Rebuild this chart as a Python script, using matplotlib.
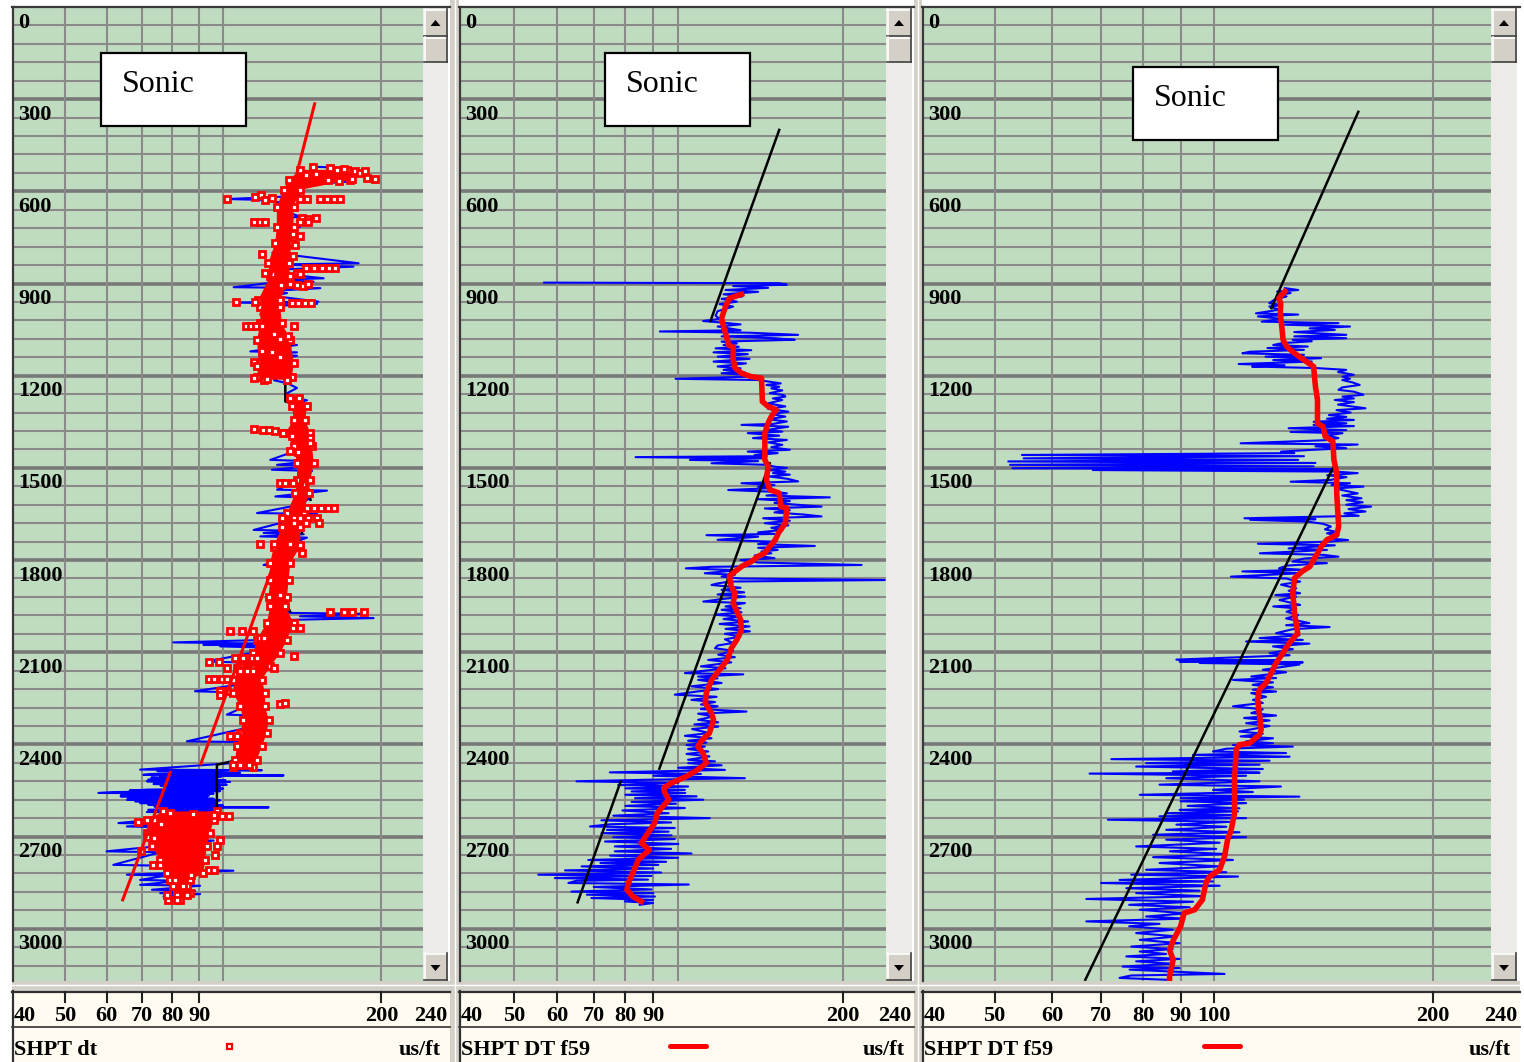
import numpy as np
import matplotlib.pyplot as plt
from matplotlib.patches import Rectangle, Polygon
from matplotlib.transforms import blended_transform_factory

nan = np.nan

# ---- scales ----
depth_marks = [0, 300, 600, 900, 1200, 1500, 1800, 2100, 2400, 2700, 3000]
dt_grid = [50, 60, 70, 80, 90, 100, 200]
dt_labels_12 = [50, 60, 70, 80, 90, 200]
dt_labels_3 = [50, 60, 70, 80, 90, 100, 200]
curve_names = ["SHPT dt", "SHPT DT f59", "SHPT DT f59"]
unit = "us/ft"
DT_MIN, DT_MAX = 40, 240
DEPTH_MAX = 3170

# ---- track 1 : raw sonic (blue), edited points (red squares), trend (red) ----
blue1 = [(520, 150), (525, 175), (530, 160), (536, 187.8), (541, 150), (548, 182.4), (555, 145),
         (568, 174.6), (580, 135), (600, 130), (615, 140), (625, 101.6), (628, 120), (640, 132),
         (660, 128), (682, 140.2), (690, 128), (715, 140.2), (740, 127), (770, 134), (800, 124),
         (834, 181), (838, 125), (845, 177), (855, 126), (870, 132), (883, 155.3), (888, 124),
         (894, 148.6), (900, 120), (912, 104.7), (915, 153.1), (925, 121), (931, 132.3), (940, 124),
         (959, 151.8), (962, 105.4), (966, 150.9), (975, 120), (1000, 128), (1030, 118), (1060, 130),
         (1094, 121.2), (1100, 138.2), (1121, 112.6), (1124, 138.2), (1132, 117.7), (1135, 138.2),
         (1160, 120), (1190, 132), (1215, 125), (1224, 132.3), (1240, 138.2), (1257, 132.3),
         (1268, 134.2), (1280, 144.4), (1289, 136), (1320, 142), (1360, 138), (1400, 143), (1440, 140),
         (1474, 122.9), (1478, 146.5), (1490, 126.6), (1494, 148.7), (1506, 123.8), (1510, 147.6),
         (1540, 140), (1571, 126.6), (1574, 157.6), (1593, 125.7), (1597, 146.5), (1620, 140),
         (1647, 116), (1650, 150.9), (1670, 135), (1702, 114.3), (1705, 140.2), (1712, 119.4),
         (1716, 142.3), (1723, 117.7), (1727, 144.4), (1760, 128), (1790, 135), (1816, 119.4),
         (1820, 132.3), (1850, 125), (1880, 132), (1929, 121.2), (1933, 132.3), (1950, 125),
         (1972, 134.2), (1975, 187), (1983, 140), (1989, 193.3), (1995, 130), (2030, 125), (2060, 120),
         (2068, 80.4), (2072, 121.1), (2076, 91.7), (2078, 121.1), (2081, 98.7), (2085, 121.1),
         (2100, 115), (2130, 93.1), (2133, 106.2), (2160, 118), (2200, 112), (2227, 88.4), (2230, 101.6),
         (2260, 116), (2303, 101.6), (2306, 114.2), (2340, 115), (2390, 85.3), (2393, 115.9),
         (2420, 112), (2460, 106), (2482, 69.5), (2484, 118.5), (2487, 75), (2489, 100), (2491, 79.3),
         (2493, 107.7), (2496, 74), (2499, 70.5), (2501, 130.3), (2504, 76), (2506, 99), (2508, 73),
         (2510, 77.0), (2512, 97.3), (2515, 72), (2517, 101), (2520, 71.6), (2522, 103.1), (2525, 74),
         (2527, 98), (2529, 73.7), (2531, 101.6), (2534, 76), (2536, 98.7), (2539, 78), (2542, 80.4),
         (2544, 100), (2547, 72), (2550, 66.4), (2552, 98.7), (2555, 62), (2558, 57.9), (2560, 95.9),
         (2563, 64), (2566, 94), (2569, 63.8), (2571, 93.1), (2574, 66), (2577, 96), (2580, 65.6),
         (2582, 98.7), (2585, 68), (2588, 97), (2591, 69.5), (2593, 97.3), (2596, 72), (2599, 100),
         (2602, 74), (2605, 122), (2607, 75.9), (2610, 99), (2613, 72), (2616, 98), (2620, 71.6),
         (2623, 98.7), (2656, 63.2), (2659, 82.8), (2667, 65.6), (2670, 78.1), (2710, 71.6),
         (2713, 95.9), (2748, 60), (2751, 75.9), (2792, 61.8), (2795, 78.1), (2808, 82.8), (2811, 104.6),
         (2824, 65.6), (2827, 78.1), (2841, 69.5), (2844, 82.8), (2857, 69.5), (2860, 90.4),
         (2873, 73.2), (2876, 88.4), (2884, 75.9), (2887, 90.4), (2895, 77.0), (2898, 85.3), (2905, 79)]

# dense band of edited points: depth, left DT, right DT
core1 = [(530, 140.2, 172), (563, 133.2, 174.6), (595, 130.3, 140.2), (650, 126.5, 136.1),
         (715, 126.5, 136.1), (769, 125.6, 135.1), (834, 121.9, 133.2), (877, 122.8, 134.2),
         (953, 116.7, 128.4), (975, 117.7, 128.4), (1029, 117.7, 129.3), (1083, 116, 134.2),
         (1159, 116.8, 136.2), (1203, 116, 135.2), (1213, 119.4, 132.3), (1240, nan, nan),
         (1273, 134.2, 139.2), (1300, 135.2, 144.4), (1344, 136.2, 143.3), (1387, 131.3, 146.5),
         (1430, 136.2, 147.6), (1485, 138.2, 148.7), (1539, 138.2, 146.5), (1582, 137.2, 145.4),
         (1647, 132.3, 142.3), (1691, 129.3, 140.2), (1756, 124.8, 140.2), (1810, 122.9, 134.2),
         (1864, 122.9, 133.2), (1919, 122, 132.3), (1951, 122.9, 131.3), (2005, 121.1, 136.1),
         (2059, 115.9, 132.2), (2103, 114.2, 128.4), (2146, 107.7, 122.9), (2190, 104.6, 118.5),
         (2233, 104.6, 120.2), (2276, 107.7, 120.2), (2320, 109.3, 122), (2363, 107.7, 121.1),
         (2406, 106.2, 118.5), (2450, 105.4, 115.9), (2472, 104.6, 114.2), (2550, nan, nan),
         (2618, 77, 97.3), (2645, 71.6, 95.9), (2689, 71.6, 94.5), (2732, 73.2, 93.1),
         (2775, 75.9, 92.4), (2819, 78.1, 91.7), (2841, 79.3, 86.5), (2862, 80.4, 85.3),
         (2884, 81.6, 86.5), (2905, 78.7, 82.8)]

squares1 = [(520, 148), (525, 160), (530, 165), (528, 170), (535, 178), (540, 182), (533, 186),
            (560, 194.8), (555, 188), (560, 176), (565, 166), (562, 158), (545, 150), (548, 144),
            (625, 101.6), (620, 115), (612, 118), (628, 120), (622, 124), (625, 140.2), (625, 144.3),
            (625, 153), (625, 157.6), (625, 162.3), (625, 167.1), (700, 114.3), (700, 117.6), (700, 120),
            (687, 141), (690, 145), (687, 150), (700, 140), (700, 145), (740, 136), (745, 140), (775, 137),
            (805, 118.5), (810, 136), (848, 144), (848, 149), (848, 154), (848, 159), (848, 163),
            (865, 120), (870, 124), (865, 138), (870, 140), (905, 129), (903, 134), (905, 138), (907, 142),
            (902, 145), (961, 105.9), (961, 115.1), (962, 135), (962, 138.5), (962, 143), (962, 147),
            (1038, 110.5), (1038, 113), (1038, 115.5), (1038, 118.5), (1038, 136.2), (1065, 124.8),
            (1070, 133), (1080, 128), (1120, 118.5), (1122, 124), (1140, 128), (1157, 114.3), (1170, 116),
            (1208, 114.3), (1210, 121.2), (1213, 132.3), (1375, 114.3), (1376, 119), (1378, 122),
            (1380, 125.5), (1388, 130), (1395, 135), (1402, 146.5), (1420, 146.5), (1445, 134),
            (1448, 138.5), (1550, 128.4), (1550, 131.3), (1550, 136), (1551, 142), (1631, 144.4),
            (1631, 148.7), (1631, 153.5), (1631, 158), (1631, 162.8), (1664, 129.3), (1664, 136.2),
            (1664, 140.2), (1664, 145), (1664, 150.9), (1678, 136.2), (1678, 144), (1678, 152),
            (1747, 117.7), (1748, 124.8), (1748, 134), (1750, 140.2), (1778, 141), (1913, 128.4),
            (1970, 159.9), (1970, 169.5), (1970, 175.8), (1970, 185), (2022, 140.2), (2020, 136),
            (2032, 103.1), (2032, 108.5), (2032, 114.2), (2054, 117.6), (2054, 119.4), (2112, 136.1),
            (2119, 105.4), (2119, 109.3), (2119, 113.4), (2119, 116), (2133, 93.8), (2133, 98),
            (2152, 101.6), (2152, 106.2), (2152, 114.2), (2152, 124.7), (2162, 107.7), (2162, 111),
            (2162, 114.2), (2186, 93.8), (2186, 95.9), (2186, 99.4), (2186, 101.6), (2227, 98.7),
            (2227, 101.6), (2238, 98.7), (2268, 128.4), (2266, 131.3), (2374, 103.1), (2374, 106.2),
            (2466, 104.6), (2466, 107.7), (2466, 112), (2623, 79.3), (2625, 87.8), (2630, 95.9),
            (2632, 99.4), (2632, 102.7), (2653, 69.0), (2645, 74), (2660, 76), (2700, 71.6), (2705, 74),
            (2710, 98.5), (2730, 97.5), (2748, 69.8), (2760, 96.5), (2792, 73.7), (2792, 75.9),
            (2808, 93.8), (2808, 95.9), (2825, 87), (2840, 81), (2889, 78.1), (2889, 81.6),
            (2889, 85.3), (2908, 81.6), (2862, 84)]

trend1_depth = [315, 1000, nan, 1490, 2463, nan, 2491, 2906]
trend1_dt = [149.3, 118, nan, 146.2, 90.7, nan, 79.3, 64.4]
black1_depth = [1230, 1284, 1290, nan, 1550, 1604, nan, 1680, 1712, nan, 1929, 1967, nan, 2455, 2466, 2624]
black1_dt = [131.3, 131.3, 135.2, nan, 144.4, 146.6, nan, 141.2, 141.2, nan, 131, 134, nan, 103.9, 97.3, 97.3]

# ---- track 2 ----
blue2 = [(897, 56.8), (899, 153), (904, 158), (908, 126), (914, 146), (921, 122), (927, 140), (935, 121),
         (942, 131), (950, 120), (959, 128), (967, 119), (975, 126), (990, 118), (1005, 117), (1015, 119),
         (1022, 111), (1027, 120), (1033, 130), (1040, 118), (1052, 130), (1056, 92.5), (1060, 135),
         (1067, 165.7), (1072, 120), (1078, 150), (1083, 163.4), (1089, 120), (1095, 128), (1100, 121),
         (1106, 129), (1111, 117), (1117, 136), (1124, 116), (1130, 134), (1138, 118), (1145, 135),
         (1154, 116), (1160, 133), (1170, 118), (1176, 130), (1181, 121), (1188, 132), (1192, 120),
         (1198, 134), (1203, 136), (1210, 98.8), (1214, 140), (1219, 146), (1225, 154), (1230, 145),
         (1236, 153), (1241, 148), (1248, 155), (1257, 147), (1263, 156), (1268, 157), (1274, 149),
         (1279, 155), (1290, 146), (1300, 157), (1308, 146), (1317, 159), (1325, 148), (1333, 157),
         (1342, 146), (1349, 158), (1357, 149), (1360, 130.5), (1366, 158.9), (1376, 146), (1382, 155),
         (1387, 134), (1395, 153), (1403, 137), (1409, 158), (1417, 146), (1425, 155), (1433, 148),
         (1441, 160), (1447, 134), (1452, 152), (1458, 138), (1462, 145), (1465, 83.5), (1469, 143),
         (1474, 105), (1478, 140), (1485, 115), (1490, 145), (1496, 150), (1500, 158), (1507, 146),
         (1512, 157), (1517, 149), (1522, 160), (1528, 147), (1536, 159), (1544, 165.7), (1550, 130.5),
         (1556, 150), (1561, 140), (1566, 148), (1572, 123.4), (1578, 150), (1583, 158), (1590, 145),
         (1596, 189.4), (1602, 140), (1608, 160), (1614, 150), (1620, 165), (1626, 182.9), (1632, 144),
         (1638, 160), (1645, 150), (1652, 170), (1658, 182.9), (1664, 143), (1672, 160), (1680, 144),
         (1687, 159), (1695, 148), (1702, 155), (1710, 140), (1715, 150), (1719, 112.6), (1724, 140),
         (1734, 118), (1740, 148.1), (1748, 140), (1754, 177.8), (1760, 140), (1767, 152), (1772, 142),
         (1778, 148), (1785, 138), (1794, 150), (1800, 130), (1808, 140), (1816, 216.5), (1822, 115),
         (1827, 103.2), (1833, 128), (1843, 111.8), (1848, 126.9), (1854, 120), (1860, 130),
         (1865, 238.8), (1870, 124.3), (1876, 118), (1881, 115), (1890, 130), (1897, 120), (1905, 132),
         (1912, 118), (1919, 132.4), (1927, 120), (1935, 111.1), (1940, 132.4), (1951, 122), (1957, 130),
         (1962, 120), (1970, 130.5), (1978, 116.7), (1984, 130), (1992, 121), (2000, 134.2), (2008, 119),
         (2016, 135), (2024, 122), (2032, 135.2), (2040, 121.7), (2049, 130), (2058, 121.7), (2070, 126),
         (2078, 118), (2087, 116.7), (2095, 126), (2108, 118.3), (2116, 126.9), (2125, 113.4),
         (2133, 125), (2146, 110), (2152, 122), (2168, 102.8), (2172, 131.5), (2179, 108.7), (2185, 118),
         (2190, 108.7), (2200, 120.0), (2211, 105.7), (2220, 118.3), (2228, 108), (2238, 98.5),
         (2245, 117.5), (2255, 105.7), (2262, 116.7), (2270, 110), (2276, 118), (2285, 110),
         (2293, 133.3), (2300, 108.7), (2309, 116), (2320, 108.7), (2328, 118.3), (2335, 107),
         (2342, 118.3), (2350, 106), (2363, 114), (2372, 102.8), (2380, 115), (2388, 104.2),
         (2394, 112.6), (2402, 103.5), (2407, 111.8), (2415, 104.2), (2423, 113.4), (2431, 103.5),
         (2439, 114), (2450, 104.2), (2455, 116.7), (2461, 104.2), (2468, 120), (2476, 99.9),
         (2483, 121.7), (2491, 74.9), (2496, 110), (2502, 90), (2510, 132.4), (2515, 88), (2520, 65.1),
         (2525, 100), (2532, 77.6), (2537, 104.2), (2543, 80), (2548, 102.8), (2553, 82.1), (2558, 103),
         (2564, 80), (2569, 108), (2575, 83.3), (2580, 111.1), (2587, 82.1), (2593, 99), (2600, 80),
         (2607, 102.8), (2615, 79), (2624, 96), (2632, 76), (2640, 114.2), (2647, 72.3), (2654, 97),
         (2660, 75), (2667, 68.9), (2672, 98.5), (2678, 74), (2684, 96), (2689, 72.3), (2696, 97.2),
         (2702, 76), (2708, 98.5), (2716, 73.4), (2724, 100), (2732, 76.5), (2740, 97), (2748, 76.5),
         (2755, 105.7), (2762, 75), (2769, 99.9), (2776, 68.4), (2782, 95), (2786, 72), (2792, 91.9),
         (2797, 66.5), (2804, 90), (2810, 62), (2817, 93), (2824, 55.4), (2828, 89.3), (2835, 59.4),
         (2840, 88), (2844, 65), (2851, 62.9), (2856, 104.5), (2864, 70), (2872, 89.3), (2879, 63.7),
         (2884, 90), (2889, 68), (2895, 90.6), (2900, 69.3), (2906, 89.9), (2911, 79.8), (2916, 89.9),
         (2922, 85)]

red2 = [(935, 130.5), (948, 124), (975, 122), (1013, 120), (1040, 121), (1083, 123), (1100, 123.5),
        (1107, 126), (1148, 126), (1175, 127), (1192, 130.5), (1203, 136), (1208, 142), (1284, 142.5),
        (1300, 146), (1311, 151), (1333, 148), (1354, 146), (1387, 144), (1474, 144), (1495, 146),
        (1539, 145), (1571, 147), (1582, 153), (1626, 154), (1631, 158), (1680, 157), (1712, 152.5),
        (1734, 150.5), (1756, 147), (1777, 144), (1788, 140), (1805, 136), (1821, 130.5), (1837, 127),
        (1853, 124), (1886, 125), (1908, 127), (1940, 126), (1994, 130), (2027, 130.5), (2059, 128),
        (2087, 125), (2124, 123), (2157, 119), (2190, 115), (2233, 112.5), (2265, 112), (2298, 115),
        (2320, 116), (2363, 114), (2390, 110), (2407, 108.5), (2428, 111), (2461, 112.5), (2482, 108.5),
        (2504, 103.5), (2526, 97), (2542, 94), (2558, 94.5), (2580, 96), (2623, 91.5), (2656, 90.5),
        (2688, 88), (2721, 85.5), (2743, 88.5), (2775, 84.5), (2808, 83), (2851, 81), (2873, 80.5),
        (2895, 82.5), (2911, 85.5)]

black2_depth = [400, 1022, nan, 1485, 2479, nan, 2521, 2914]
black2_dt = [153, 114.5, nan, 147, 92.3, nan, 78.4, 65.4]

# ---- track 3 ----
blue3 = [(915, 125.1), (921, 130.5), (926, 122.1), (931, 127.4), (937, 122.8), (942, 125.8), (953, 121),
         (964, 119.1), (970, 124), (975, 119.1), (985, 123), (997, 114.2), (1001, 130.5), (1007, 114.9),
         (1015, 124), (1024, 116.3), (1029, 148.2), (1034, 125.1), (1040, 153.7), (1046, 135.3),
         (1051, 146.5), (1058, 128.9), (1067, 151.9), (1072, 128.9), (1078, 151.9), (1083, 128.2),
         (1088, 136.2), (1094, 124), (1100, 120.6), (1105, 134.5), (1110, 118.4), (1116, 132.9),
         (1122, 112), (1127, 109.4), (1132, 132.9), (1138, 117.7), (1143, 140.3), (1149, 120.6),
         (1154, 136.2), (1162, 108.1), (1166, 125), (1170, 112.8), (1175, 137.8), (1181, 151.9),
         (1188, 148), (1197, 155.6), (1203, 150.1), (1210, 153.7), (1214, 150), (1222, 155),
         (1230, 158.5), (1238, 150), (1246, 148.2), (1252, 155.6), (1262, 160.4), (1268, 150.1),
         (1274, 155.6), (1279, 146.5), (1286, 155.6), (1294, 148), (1306, 161.4), (1312, 147.3),
         (1320, 154), (1328, 143.8), (1334, 151.9), (1340, 142.9), (1344, 155.6), (1350, 137),
         (1355, 152), (1360, 137.0), (1364, 155.6), (1371, 126.6), (1377, 151.9), (1383, 127.4),
         (1387, 150.1), (1395, 142.9), (1403, 148.2), (1410, 142), (1420, 108.8), (1424, 157.5),
         (1430, 137.8), (1436, 151.9), (1441, 137), (1447, 123.6), (1452, 128.9), (1458, 54.5),
         (1462, 132.9), (1469, 54.8), (1474, 130.5), (1479, 52.2), (1484, 137.8), (1490, 52.5),
         (1495, 137.0), (1501, 52.9), (1505, 144.7), (1507, 68.2), (1512, 146.5), (1517, 157.5),
         (1524, 143), (1530, 152), (1539, 144.7), (1545, 127.4), (1550, 153.7), (1556, 145),
         (1561, 160.4), (1567, 146.5), (1575, 152), (1583, 157.5), (1590, 150), (1599, 159.4),
         (1605, 152), (1612, 160), (1620, 151.9), (1626, 164.3), (1634, 153), (1642, 161.4), (1648, 151),
         (1656, 158), (1664, 110.1), (1667, 137.8), (1669, 112.1), (1675, 134.5), (1682, 141.2),
         (1691, 144.7), (1700, 142), (1708, 147), (1713, 142.9), (1720, 148.2), (1729, 142.9),
         (1735, 152.8), (1740, 144), (1747, 114.9), (1752, 146.5), (1762, 126.6), (1767, 142.9),
         (1778, 115.6), (1783, 141.2), (1789, 148.2), (1795, 132.9), (1805, 128.2), (1810, 142.9),
         (1818, 126), (1827, 122.8), (1832, 132.9), (1837, 109.4), (1843, 131.3), (1854, 105.5),
         (1860, 125.8), (1866, 128.2), (1870, 131.3), (1880, 123.6), (1892, 129.7), (1900, 126.6),
         (1908, 131.3), (1914, 121.4), (1919, 129.7), (1930, 123), (1946, 131.3), (1951, 120.6),
         (1957, 129.7), (1968, 125.8), (1979, 130.5), (1990, 125.6), (2005, 135.2), (2012, 125.6),
         (2018, 144.1), (2025, 128.3), (2038, 121.7), (2045, 131), (2054, 115.5), (2060, 132.4),
         (2065, 110.7), (2072, 135.2), (2081, 120.5), (2090, 128.3), (2103, 119.2), (2110, 127),
         (2124, 88.8), (2127, 123), (2130, 89.7), (2133, 132.4), (2135, 95.6), (2140, 131),
         (2157, 116.7), (2165, 125.6), (2179, 112.5), (2184, 121.7), (2190, 106.2), (2198, 120.5),
         (2206, 113), (2214, 120.5), (2222, 113.1), (2228, 121.7), (2233, 112.5), (2245, 117.9),
         (2255, 113.1), (2265, 116.7), (2276, 106.2), (2286, 116.7), (2298, 112.5), (2306, 121.7),
         (2314, 110), (2322, 119.2), (2331, 110.7), (2340, 119.2), (2358, 108.4), (2365, 116.7),
         (2374, 108.8), (2380, 120.5), (2390, 110.7), (2396, 120.5), (2402, 106.2), (2407, 128.3),
         (2414, 104), (2423, 99.7), (2428, 125.6), (2434, 93.6), (2440, 127), (2448, 72.3),
         (2453, 119.2), (2461, 80.7), (2466, 115.5), (2472, 78.2), (2480, 116.7), (2488, 87.8),
         (2492, 115.5), (2495, 67.5), (2502, 110.7), (2510, 86), (2520, 115.5), (2531, 84.2),
         (2537, 123.6), (2548, 99.7), (2555, 113.1), (2564, 79.1), (2570, 131), (2575, 90), (2580, 110),
         (2585, 90), (2591, 110.7), (2600, 92), (2608, 108.4), (2613, 89.7), (2618, 107.9), (2624, 86),
         (2630, 106.2), (2634, 84.2), (2640, 110.7), (2645, 71.5), (2652, 105), (2661, 88.8),
         (2668, 104), (2678, 86), (2686, 108.4), (2694, 82.5), (2702, 110.7), (2710, 86), (2720, 101.8),
         (2732, 78.2), (2740, 100.7), (2748, 87), (2757, 104), (2767, 82.5), (2776, 106.2), (2786, 84.2),
         (2797, 101.8), (2808, 80.7), (2816, 104), (2824, 77.0), (2830, 107.9), (2841, 74.2),
         (2846, 99.7), (2851, 70.0), (2860, 101.8), (2868, 75.8), (2876, 95.6), (2884, 78.2),
         (2894, 96.6), (2903, 66.8), (2912, 93.6), (2922, 76.5), (2930, 92.6), (2938, 79.1),
         (2950, 91.6), (2960, 80.7), (2967, 91.1), (2976, 66.8), (2984, 84.2), (2992, 76.5),
         (3003, 87.8), (3014, 78.2), (3025, 89), (3036, 79.1), (3047, 89.7), (3058, 77), (3066, 87.8),
         (3074, 79.1), (3082, 86), (3090, 75.8), (3098, 89.7), (3106, 78.2), (3114, 87.8), (3123, 74.9),
         (3128, 89.7), (3133, 76.6), (3140, 88.8), (3147, 103.4), (3152, 77), (3160, 74.2), (3166, 86)]

red3 = [(926, 125.1), (948, 122.8), (964, 123.5), (997, 123.3), (1040, 123.9), (1083, 124.4),
        (1105, 125.8), (1127, 129.0), (1149, 132.9), (1170, 137.0), (1235, 137.8), (1279, 138.7),
        (1355, 138.7), (1366, 141.2), (1398, 142.1), (1414, 145.6), (1474, 146.1), (1517, 147.4),
        (1583, 147.4), (1691, 148.3), (1718, 147.4), (1734, 142.9), (1756, 140.3), (1778, 138.7),
        (1799, 137.0), (1821, 135.4), (1837, 132.1), (1859, 129.0), (1908, 128.3), (1972, 129.0),
        (2038, 130.3), (2070, 126.9), (2103, 124.3), (2135, 121.7), (2168, 119.8), (2200, 117.9),
        (2222, 115.4), (2255, 114.8), (2298, 115.4), (2352, 116.1), (2369, 115.4), (2396, 111.9),
        (2401, 108.4), (2417, 107.3), (2515, 106.7), (2624, 106.7), (2678, 105.6), (2710, 104.4),
        (2765, 103.4), (2808, 101.8), (2830, 98.6), (2851, 97.5), (2906, 96.4), (2938, 94.1),
        (2949, 91.0), (2992, 90.0), (3036, 88.0), (3068, 86.9), (3101, 87.9), (3155, 86.9), (3166, 86.9)]

black3_depth = [341, 980, nan, 1501, 3166]
black3_dt = [157.8, 119.9, nan, 145.6, 66.6]

# ---- look ----
GREEN = "#c0dcc0"
GRID = "#8a8a8a"
GRID_MAJOR = "#787878"
CREAM = "#fffbf0"
BTN = "#d4d0c8"
RED = "#ff0000"
BLUE = "#0000ff"
num_font = dict(family="Liberation Serif", weight="bold", size=16, color="black")

W, H = 1524, 1062
TOP, BOT = 7, 981
# plot left, plot right (= scrollbar left), scrollbar right, panel left, panel right
layout = [(14, 423, 448, 12, 450), (461, 886, 912, 459, 914), (924, 1491, 1517, 922, 1520)]
sonic_boxes = [(101, 53), (605, 53), (1133, 67)]


def pairs(p):
    a = np.array(p, dtype=float)
    return a[:, 1], a[:, 0]


fig = plt.figure(figsize=(W / 100, H / 100), dpi=100)
fig.patch.set_facecolor("white")

deco = fig.add_axes([0, 0, 1, 1], zorder=-1)
deco.set_xlim(0, W)
deco.set_ylim(H, 0)
deco.axis("off")

over = fig.add_axes([0, 0, 1, 1], zorder=5)
over.set_xlim(0, W)
over.set_ylim(H, 0)
over.axis("off")

# gaps between the panels
deco.add_patch(Rectangle((450, 0), 9, H, fc=BTN, ec="none"))
deco.add_patch(Rectangle((914, 0), 8, H, fc=BTN, ec="none"))
deco.plot([454.5, 454.5], [0, H], color="white", lw=1)
deco.plot([918, 918], [0, H], color="white", lw=1)
deco.add_patch(Rectangle((12, BOT), 1508, 10, fc=BTN, ec="none"))
deco.plot([12, 1520], [BOT + 4, BOT + 4], color="white", lw=1)


def track(x0, x1):
    ax = fig.add_axes([x0 / W, 1 - BOT / H, (x1 - x0) / W, (BOT - TOP) / H])
    ax.set_facecolor(GREEN)
    ax.set_xscale("log")
    ax.set_xlim(DT_MIN, DT_MAX)
    ax.set_ylim(DEPTH_MAX, 0)
    ax.tick_params(which="both", bottom=False, left=False, top=False, right=False,
                   labelbottom=False, labelleft=False)
    for s in ax.spines.values():
        s.set_visible(False)
    for d in range(60, DEPTH_MAX, 60):
        if d % 300 == 0:
            ax.axhline(d, color=GRID_MAJOR, lw=2.6, zorder=1)
        else:
            ax.axhline(d, color=GRID, lw=1.5, zorder=1)
    for v in dt_grid:
        ax.axvline(v, color=GRID, lw=1.5, zorder=1)
    tr = blended_transform_factory(ax.transAxes, ax.transData)
    for d in depth_marks:
        ax.text(4 / (x1 - x0), d + 67, str(d), transform=tr, ha="left", va="baseline",
                zorder=8, **num_font)
    return ax


def scrollbar(x0, x1):
    deco.add_patch(Rectangle((x0, TOP), x1 - x0, BOT - TOP, fc="#ecebe8", ec="none"))
    for ya, yb in [(TOP + 2, TOP + 29), (TOP + 30, TOP + 55), (BOT - 28, BOT - 1)]:
        deco.add_patch(Rectangle((x0 + 1, ya), x1 - x0 - 2, yb - ya, fc=BTN, ec="none"))
        deco.plot([x0 + 1, x1 - 1], [ya + 0.5, ya + 0.5], color="white", lw=1.2)
        deco.plot([x0 + 1.5, x0 + 1.5], [ya, yb], color="white", lw=1.2)
        deco.plot([x0 + 1, x1 - 1], [yb - 0.5, yb - 0.5], color="#404040", lw=1.2)
        deco.plot([x1 - 1.5, x1 - 1.5], [ya, yb], color="#404040", lw=1.2)
    cx = (x0 + x1) / 2
    deco.add_patch(Polygon([[cx - 5, TOP + 19], [cx + 5, TOP + 19], [cx, TOP + 13]], fc="black"))
    deco.add_patch(Polygon([[cx - 5, BOT - 16], [cx + 5, BOT - 16], [cx, BOT - 10]], fc="black"))


def header(x0, x1, pl, pr, ticks, name):
    deco.add_patch(Rectangle((pl, 991), pr - pl, H - 991, fc=CREAM, ec="none"))
    deco.plot([pl, pr], [992, 992], color="#303030", lw=1.6)
    deco.plot([pl + 1, pl + 1], [991, H], color="#303030", lw=1.6)
    deco.plot([pl, pr], [1026.5, 1026.5], color="#404040", lw=1.3)
    hax = fig.add_axes([x0 / W, 0, (x1 - x0) / W, (H - 992) / H])
    hax.set_xscale("log")
    hax.set_xlim(DT_MIN, DT_MAX)
    hax.set_ylim(0, 1)
    hax.axis("off")
    tr = blended_transform_factory(hax.transData, hax.transAxes)
    hh = H - 992
    for v in ticks:
        hax.plot([v, v], [1, 1 - 10 / hh], color="#202020", lw=1.5, transform=tr, clip_on=False)
        hax.text(v, (H - 1021) / hh, str(v), transform=tr, ha="center", va="baseline", **num_font)
    deco.text(pl + 2, 1021, str(DT_MIN), ha="left", va="baseline", **num_font)
    deco.text(pr - 3, 1021, str(DT_MAX), ha="right", va="baseline", **num_font)
    deco.text(pl + 2, 1055, name, ha="left", va="baseline", **num_font)
    deco.text(pr - 9, 1055, unit, ha="right", va="baseline", **num_font)


axes = []
for i, (x0, x1, xs, pl, pr) in enumerate(layout):
    axes.append(track(x0, x1))
    scrollbar(x1, xs)
    header(x0, x1, pl, pr, dt_labels_3 if i == 2 else dt_labels_12, curve_names[i])
    over.plot([pl, pr], [TOP, TOP], color="#3a3a3a", lw=1.6)
    over.plot([pl + 1, pl + 1], [TOP, BOT], color="#3a3a3a", lw=1.6)

sq = dict(marker="s", ms=4.4, mfc="white", mec=RED, mew=2.0, ls="none")

# track 1
ax = axes[0]
v, d = pairs(blue1)
ax.plot(v, d, color=BLUE, lw=1.5, zorder=3)
ax.plot(black1_dt, black1_depth, color="black", lw=1.8, zorder=3)
c = np.array(core1, dtype=float)
ax.fill_betweenx(c[:, 0], c[:, 1], c[:, 2], color=RED, lw=0, zorder=4)
ax.plot(c[:, 1], c[:, 0], zorder=5, **sq)
ax.plot(c[:, 2], c[:, 0], zorder=5, **sq)
v, d = pairs(squares1)
ax.plot(v, d, zorder=5, **sq)
ax.plot(trend1_dt, trend1_depth, color=RED, lw=2.2, zorder=6)

# track 2
ax = axes[1]
v, d = pairs(blue2)
ax.plot(v, d, color=BLUE, lw=1.5, zorder=3)
ax.plot(black2_dt, black2_depth, color="black", lw=1.8, zorder=4)
v, d = pairs(red2)
ax.plot(v, d, color=RED, lw=4, zorder=5, solid_joinstyle="round")

# track 3
ax = axes[2]
v, d = pairs(blue3)
ax.plot(v, d, color=BLUE, lw=1.5, zorder=3)
ax.plot(black3_dt, black3_depth, color="black", lw=1.8, zorder=4)
v, d = pairs(red3)
ax.plot(v, d, color=RED, lw=4, zorder=5, solid_joinstyle="round")

# legend swatches in the headers
deco.plot([229], [1046], marker="s", ms=3.6, mfc="white", mec=RED, mew=1.6, ls="none")
deco.plot([670, 706], [1046, 1046], color=RED, lw=3.6, solid_capstyle="round")
deco.plot([1204, 1240], [1046, 1046], color=RED, lw=3.6, solid_capstyle="round")

# "Sonic" boxes
for bx, by in sonic_boxes:
    over.add_patch(Rectangle((bx, by), 145, 73, fc="white", ec="black", lw=1.6))
    over.text(bx + 21, by + 32, "Sonic", family="Liberation Serif", size=23,
              ha="left", va="center")

fig.savefig("out.png", dpi=100)
